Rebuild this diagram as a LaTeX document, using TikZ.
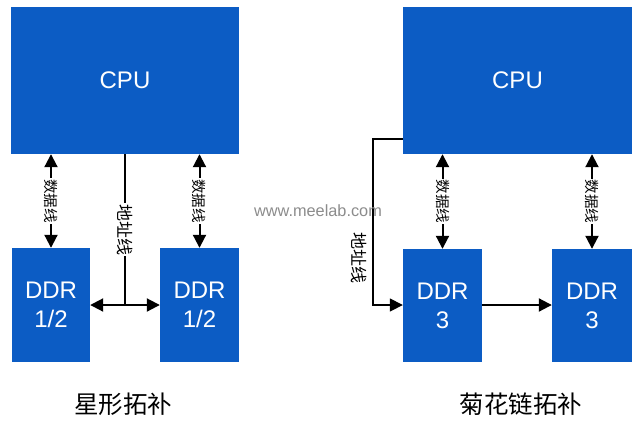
\documentclass[tikz,border=0pt]{standalone}
\usepackage{fontspec}
\setmainfont{Liberation Sans}
\newfontfamily\cjk{Noto Sans CJK SC}
\usetikzlibrary{arrows.meta}
\definecolor{chipblue}{RGB}{12,92,196}
\begin{document}
\begin{tikzpicture}[x=1pt,y=-1pt,
  chip/.style={fill=chipblue,draw=none,text=white,font=\fontsize{24}{28}\selectfont,align=center,inner sep=0pt},
  bus/.style={line width=2pt,{Triangle[length=13pt,width=13pt]}-{Triangle[length=13pt,width=13pt]}},
  addr/.style={line width=1.6pt},
  lbl/.style={fill=white,inner sep=1pt,rotate=-90,font=\cjk\fontsize{14.5}{15}\selectfont},
  albl/.style={fill=white,inner sep=1pt,rotate=-90,font=\cjk\fontsize{17}{18}\selectfont},
  captxt/.style={font=\cjk\fontsize{24.5}{27}\selectfont}]
\useasboundingbox (0,0) rectangle (640,424);
% left: star
\node[chip,minimum width=228pt,minimum height=147pt] (cpuL) at (125,80.5) {CPU};
\node[chip,minimum width=78pt,minimum height=114pt] (d1) at (51,305) {DDR\\[1pt]1/2};
\node[chip,minimum width=79pt,minimum height=114pt] (d2) at (199.5,305) {DDR\\[1pt]1/2};
\draw[bus] (d1.north |- cpuL.south) -- (d1.north) node[midway,lbl] {数据线};
\draw[bus] (d2.north |- cpuL.south) -- (d2.north) node[midway,lbl] {数据线};
\coordinate (jL) at (125,305);
\draw[addr] (cpuL.south -| jL) -- (jL) node[pos=0.5,albl] {地址线};
\draw[bus,line width=2pt] (d1.east |- jL) -- (d2.west |- jL);
% right: daisy chain
\node[chip,minimum width=229pt,minimum height=147pt] (cpuR) at (517.5,80.5) {CPU};
\node[chip,minimum width=79pt,minimum height=113pt] (d3) at (442.5,305.5) {DDR\\[1pt]3};
\node[chip,minimum width=80pt,minimum height=113pt] (d4) at (592,305.5) {DDR\\[1pt]3};
\draw[bus] (d3.north |- cpuR.south) -- (d3.north) node[midway,lbl] {数据线};
\draw[bus] (d4.north |- cpuR.south) -- (d4.north) node[midway,lbl] {数据线};
\coordinate (aTop) at (373,139);
\coordinate (aBot) at (373,305);
\draw[addr,-{Triangle[length=13pt,width=13pt]}] (cpuR.west |- aTop) -- (aTop) -- (aBot) -- (d3.west |- aBot);
\node[albl,fill=none] (al) at (359,258) {地址线};
\draw[line width=2pt,-{Triangle[length=13pt,width=13pt]}] (d3.east |- aBot) -- (d4.west |- aBot);
% watermark
\node[text=black!45,font=\fontsize{16.3}{18}\selectfont] (wm) at (318,211) {www.meelab.com};
% captions
\node[captxt] (c1) at (123,404) {星形拓补};
\node[captxt] (c2) at (521,404) {菊花链拓补};
\end{tikzpicture}
\end{document}
